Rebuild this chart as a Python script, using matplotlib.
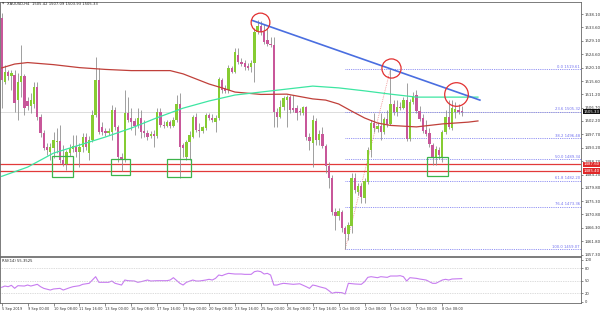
import matplotlib
matplotlib.use('Agg')
import matplotlib.pyplot as plt
from matplotlib.patches import Rectangle
import matplotlib.transforms as mtransforms
import numpy as np

# ---------------- data (XAUUSD H4) ----------------
opens = [1536.8, 1515.3, 1518.6, 1517.3, 1517.6, 1509.2, 1515.3, 1517.3, 1508.9, 1507.2,
         1507.9, 1513.6, 1503.5, 1498.2, 1493.5, 1491.8, 1493.1, 1495.1, 1495.5, 1489.1,
         1487.7, 1491.4, 1492.8, 1493.8, 1491.8, 1493.5, 1496.8, 1491.4, 1495.8, 1504.2,
         1515.9, 1500.2, 1498.8, 1498.2, 1498.5, 1505.9, 1500.2, 1490.1, 1489.1, 1504.9,
         1503.2, 1502.2, 1500.5, 1503.2, 1498.8, 1498.2, 1497.1, 1497.8, 1497.1, 1505.2,
         1500.8, 1500.5, 1501.8, 1500.5, 1502.5, 1507.9, 1494.1, 1490.1, 1495.1, 1496.8,
         1503.5, 1499.2, 1498.8, 1499.8, 1504.2, 1503.2, 1501.8, 1503.2, 1515.9, 1513.3,
         1512.6, 1520.0, 1518.6, 1524.3, 1522.0, 1521.7, 1520.6, 1520.3, 1521.7, 1532.1,
         1534.1, 1532.1, 1529.4, 1528.0, 1527.7, 1505.2, 1503.5, 1506.9, 1509.2, 1510.2,
         1506.5, 1506.5, 1505.5, 1504.9, 1506.9, 1496.8, 1494.8, 1502.2, 1495.8, 1497.8,
         1493.8, 1487.1, 1483.0, 1471.6, 1470.3, 1471.6, 1466.3, 1464.2, 1466.9, 1483.0,
         1478.3, 1480.4, 1476.3, 1481.7, 1492.4, 1501.5, 1499.5, 1500.5, 1498.5, 1502.9,
         1501.2, 1507.9, 1505.2, 1506.9, 1506.5, 1509.2, 1496.1, 1508.6, 1510.9, 1505.5,
         1503.2, 1499.2, 1498.2, 1494.1, 1490.1, 1492.4, 1489.8, 1498.5, 1503.5, 1499.8,
         1505.2, 1505.9, 1505.42]
highs = [1538.4, 1521.0, 1519.3, 1519.3, 1519.3, 1518.3, 1527.7, 1518.0, 1510.2, 1511.6,
         1515.3, 1515.3, 1504.5, 1499.2, 1494.8, 1494.8, 1498.5, 1499.8, 1500.8, 1494.1,
         1492.4, 1494.5, 1497.5, 1497.5, 1494.8, 1498.2, 1498.2, 1497.1, 1505.9, 1523.7,
         1520.0, 1501.8, 1499.8, 1499.8, 1507.6, 1506.9, 1500.8, 1491.4, 1512.6, 1510.2,
         1506.5, 1503.2, 1506.5, 1505.9, 1502.5, 1499.2, 1498.8, 1499.2, 1506.5, 1506.5,
         1502.2, 1502.5, 1502.5, 1503.5, 1510.9, 1511.6, 1494.8, 1495.8, 1498.8, 1504.2,
         1504.9, 1501.5, 1500.5, 1504.9, 1504.9, 1504.5, 1504.2, 1517.0, 1516.6, 1514.3,
         1521.0, 1520.6, 1526.7, 1526.7, 1523.3, 1522.7, 1521.7, 1522.7, 1533.4, 1536.1,
         1535.8, 1534.7, 1533.4, 1530.4, 1530.4, 1506.5, 1509.2, 1510.6, 1510.9, 1510.9,
         1510.9, 1507.6, 1506.5, 1507.2, 1507.2, 1498.2, 1504.2, 1503.2, 1499.2, 1500.2,
         1494.5, 1488.4, 1484.0, 1473.0, 1473.0, 1472.3, 1466.9, 1468.3, 1484.7, 1484.7,
         1481.4, 1481.4, 1483.0, 1493.5, 1502.5, 1504.9, 1501.8, 1504.9, 1503.5, 1505.9,
         1519.61, 1509.2, 1509.2, 1508.6, 1510.2, 1514.9, 1509.6, 1511.9, 1512.6, 1507.2,
         1504.5, 1502.5, 1499.8, 1494.8, 1493.8, 1493.5, 1499.2, 1505.9, 1509.2, 1509.2,
         1508.6, 1507.9, 1507.09]
lows = [1506.5, 1514.6, 1515.9, 1512.6, 1505.2, 1502.5, 1510.2, 1504.2, 1505.9, 1504.9,
        1506.5, 1502.5, 1496.8, 1492.4, 1490.8, 1489.1, 1489.8, 1491.4, 1488.1, 1487.1,
        1485.7, 1490.4, 1491.8, 1490.1, 1486.7, 1491.8, 1492.4, 1489.1, 1495.1, 1503.5,
        1497.8, 1497.5, 1497.1, 1497.5, 1495.8, 1499.2, 1488.4, 1485.4, 1488.4, 1501.8,
        1499.2, 1497.5, 1499.8, 1496.5, 1496.8, 1495.8, 1496.5, 1493.5, 1496.5, 1500.2,
        1499.8, 1500.2, 1499.8, 1500.2, 1501.8, 1483.0, 1490.1, 1489.1, 1489.1, 1496.5,
        1498.5, 1496.8, 1498.2, 1499.2, 1502.5, 1501.8, 1498.5, 1502.5, 1511.6, 1511.6,
        1511.6, 1518.3, 1518.3, 1521.3, 1520.6, 1519.3, 1519.3, 1518.6, 1515.3, 1531.4,
        1531.0, 1528.0, 1527.4, 1527.0, 1500.2, 1500.2, 1503.2, 1505.9, 1500.2, 1504.9,
        1505.2, 1502.5, 1504.2, 1504.2, 1495.8, 1492.4, 1486.7, 1494.1, 1494.1, 1493.1,
        1484.7, 1479.7, 1470.6, 1465.6, 1469.0, 1464.9, 1459.07, 1462.2, 1464.6, 1478.0,
        1477.3, 1474.7, 1474.7, 1481.0, 1490.1, 1498.5, 1498.5, 1495.8, 1497.8, 1500.2,
        1500.8, 1504.2, 1503.9, 1505.9, 1506.2, 1495.5, 1495.5, 1507.9, 1504.9, 1502.2,
        1498.2, 1497.1, 1493.5, 1487.4, 1487.4, 1489.4, 1488.4, 1497.8, 1499.5, 1499.2,
        1503.2, 1504.5, 1503.93]
closes = [1515.9, 1518.6, 1517.3, 1518.3, 1508.2, 1515.3, 1517.3, 1506.5, 1507.2, 1509.2,
          1513.6, 1503.5, 1498.2, 1493.1, 1492.4, 1493.5, 1495.8, 1495.5, 1489.1, 1487.7,
          1491.8, 1493.1, 1493.8, 1491.8, 1493.5, 1496.8, 1493.5, 1495.8, 1504.2, 1515.9,
          1498.5, 1498.5, 1498.2, 1498.8, 1505.9, 1500.2, 1490.1, 1489.1, 1504.9, 1502.5,
          1501.8, 1500.5, 1503.2, 1498.5, 1498.2, 1496.8, 1497.8, 1497.1, 1505.2, 1500.8,
          1500.5, 1501.8, 1500.5, 1502.5, 1507.9, 1493.5, 1493.1, 1495.1, 1497.5, 1503.5,
          1499.2, 1498.8, 1500.2, 1504.2, 1503.2, 1502.5, 1503.2, 1516.3, 1512.6, 1512.3,
          1520.0, 1518.6, 1525.3, 1522.0, 1521.3, 1520.3, 1520.0, 1521.7, 1532.1, 1534.1,
          1532.1, 1528.7, 1528.0, 1527.7, 1505.2, 1503.5, 1506.9, 1509.9, 1510.2, 1505.9,
          1505.9, 1504.9, 1505.2, 1506.9, 1496.8, 1495.5, 1502.5, 1495.8, 1497.8, 1493.8,
          1487.1, 1483.0, 1471.6, 1470.3, 1472.0, 1466.3, 1464.2, 1467.3, 1483.0, 1479.0,
          1480.4, 1476.7, 1482.0, 1492.4, 1501.5, 1499.8, 1500.5, 1498.5, 1502.9, 1501.2,
          1507.9, 1505.2, 1506.9, 1506.5, 1509.2, 1496.1, 1508.6, 1510.6, 1505.5, 1502.9,
          1498.8, 1497.8, 1494.5, 1490.1, 1492.8, 1490.8, 1498.5, 1503.5, 1500.2, 1506.5,
          1506.2, 1505.2, 1505.33]

ma_red_idx = [0, 4, 8, 16, 24, 32, 40, 48, 52, 56, 60, 64, 68, 72, 80, 88, 96, 100,
              104, 108, 112, 116, 120, 128, 136, 144, 147]
ma_red_val = [1520.0, 1521.3, 1521.8, 1521.1, 1520.1, 1519.5, 1519.1, 1519.1, 1519.1,
              1518.0, 1516.3, 1514.6, 1513.3, 1511.9, 1511.1, 1511.2, 1509.6, 1509.2,
              1507.9, 1505.5, 1503.2, 1501.5, 1500.7, 1500.2, 1501.2, 1501.8, 1502.2]
ma_green_idx = [0, 8, 16, 24, 32, 40, 48, 56, 64, 72, 80, 88, 96, 104, 112, 120, 128,
                136, 144, 147]
ma_green_val = [1483.6, 1486.7, 1491.4, 1494.1, 1496.8, 1499.8, 1503.3, 1506.5, 1508.9,
                1510.9, 1511.9, 1512.9, 1513.9, 1513.3, 1512.3, 1511.2, 1510.2, 1510.2,
                1510.2, 1510.2]

rsi_idx = [0, 1, 2, 3, 4, 5, 7, 8, 9, 11, 12, 13, 15, 16, 18, 19, 21, 22, 24, 25, 27,
           28, 29, 30, 31, 33, 34, 35, 37, 38, 39, 41, 42, 43, 45, 46, 48, 49, 51, 52,
           53, 55, 56, 57, 59, 60, 61, 63, 64, 65, 66, 67, 68, 69, 70, 72, 74, 75, 77,
           78, 79, 80, 81, 82, 83, 84, 85, 86, 87, 89, 90, 92, 94, 95, 96, 97, 98, 100,
           101, 102, 103, 105, 106, 107, 109, 111, 112, 113, 114, 116, 117, 119, 120,
           122, 123, 124, 125, 126, 128, 129, 131, 132, 133, 134, 135, 136, 137, 138,
           139, 142]
rsi_val = [34.5, 37.6, 36.0, 39.3, 32.1, 38.4, 37.6, 40.0, 37.6, 41.7, 36.0, 32.0, 28.0,
           30.5, 32.0, 28.0, 33.6, 36.0, 38.4, 41.7, 44.1, 52.0, 60.0, 46.5, 46.5, 46.5,
           49.6, 44.1, 40.0, 52.0, 50.4, 49.6, 46.5, 48.0, 52.0, 49.6, 50.4, 50.4, 50.4,
           52.0, 57.6, 44.1, 40.0, 46.5, 52.0, 49.6, 49.6, 52.0, 53.7, 52.0, 56.0, 64.0,
           62.4, 65.6, 68.0, 66.4, 66.4, 65.6, 65.6, 72.0, 73.6, 72.0, 66.4, 68.0, 64.0,
           40.0, 40.0, 42.5, 44.1, 42.5, 41.7, 43.0, 36.0, 32.0, 40.0, 38.4, 36.0, 32.0,
           26.4, 20.1, 22.5, 21.7, 18.5, 44.1, 42.5, 41.7, 48.0, 58.4, 60.0, 57.6, 60.0,
           58.4, 61.6, 61.6, 62.4, 60.0, 49.6, 57.6, 56.0, 54.4, 52.0, 48.0, 44.1, 44.1,
           48.0, 52.0, 53.7, 52.0, 54.4, 55.35]

date_idx = [0, 8, 16, 24, 32, 40, 48, 56, 64, 72, 80, 88, 96, 104, 112, 120, 128, 136]
date_labels = ['5 Sep 2019', '9 Sep 00:00', '10 Sep 08:00', '11 Sep 16:00', '13 Sep 00:00',
               '16 Sep 08:00', '17 Sep 16:00', '19 Sep 00:00', '20 Sep 08:00',
               '23 Sep 16:00', '25 Sep 00:00', '26 Sep 08:00', '27 Sep 16:00',
               '1 Oct 00:00', '2 Oct 08:00', '3 Oct 16:00', '7 Oct 00:00', '8 Oct 08:00']
price_ticks = [1538.10, 1533.60, 1529.10, 1524.60, 1520.10, 1515.60, 1511.20, 1506.70,
               1502.20, 1497.70, 1493.20, 1488.70, 1484.20, 1479.80, 1475.30, 1470.80,
               1466.30, 1461.80, 1457.30]
rsi_ticks = [100, 80, 50, 20, 0]
rsi_levels = [80, 50, 20]

fib_levels = [0.0, 23.6, 38.2, 50.0, 61.8, 76.4, 100.0]
fib_high = 1519.61
fib_low = 1459.07
fib_high_bar = 120
fib_low_bar = 106
support_levels = [1487.60, 1485.40]
last_price = 1505.33
rsi_last = 55.3525
title = 'XAUUSD,H4  1505.42 1507.09 1503.93 1505.33'

# ---------------- styles ----------------
BULL = '#86cc32'
BEAR = '#c8579a'
WICK = '#8f8f8f'
RED_MA = '#c0403a'
GREEN_MA = '#3de6a2'
FIB = '#7070f0'
FS = 3.0

fig = plt.figure(figsize=(6.0, 3.13), dpi=100)
ax = fig.add_axes([0.0008, 0.1821, 0.9675, 0.8115])
axr = fig.add_axes([0.0008, 0.031, 0.9675, 0.147], sharex=ax)

XL = (-0.37, 178.8)
ax.set_xlim(*XL)
ax.set_ylim(1456.86, 1542.13)

# candles
n = len(closes)
for i in range(n):
    o, h, l, c = opens[i], highs[i], lows[i], closes[i]
    col = BULL if c >= o else BEAR
    ax.vlines(i, l, h, color=WICK, lw=0.6, zorder=3)
    ax.bar(i, max(abs(c - o), 0.3), bottom=min(o, c), width=0.72,
           color=col, lw=0, zorder=4)

# moving averages
ax.plot(ma_red_idx, ma_red_val, color=RED_MA, lw=0.9, zorder=5)
ax.plot(ma_green_idx, ma_green_val, color=GREEN_MA, lw=0.9, zorder=5)

# current price line
ax.axhline(last_price, color='#cfcfcf', lw=0.5, zorder=1)

# support lines
for lv in support_levels:
    ax.axhline(lv, color='#e23a3a', lw=0.9, zorder=2)

# fibonacci retracement
rng = fib_high - fib_low
for f in fib_levels:
    p = fib_high - rng * f / 100.0
    ax.hlines(p, fib_low_bar, XL[1], color=FIB, lw=0.6, linestyles=(0, (1, 1.2)), zorder=2)
    ax.text(XL[1] - 0.4, p + 0.15, '%.1f %.2f' % (f, p), color=FIB, fontsize=FS - 0.3,
            ha='right', va='bottom', zorder=6)
ax.plot([fib_low_bar, fib_high_bar], [fib_low, fib_high], color='#f08a8a', lw=0.6,
        ls=(0, (1, 1.2)), zorder=2)

# trend line
ax.plot([77.3, 147.6], [1535.95, 1509.2], color='#4a6ee0', lw=1.2, zorder=6)

# circles
for (cx, cy, d) in [(79.6, 1535.5, 13.5), (120.2, 1519.9, 13.8), (140.2, 1511.2, 17.0)]:
    ax.plot([cx], [cy], marker='o', ms=d, mfc='none', mec='#e23030', mew=0.9, zorder=7)

# green boxes
for (x0, x1, y0, y1) in [(15.5, 22.0, 1483.4, 1490.4), (33.7, 39.6, 1484.0, 1489.4),
                         (51.0, 58.4, 1483.4, 1489.4), (131.3, 137.7, 1483.7, 1490.1)]:
    ax.add_patch(Rectangle((x0, y0), x1 - x0, y1 - y0, fill=False, ec='#3cb44b',
                           lw=0.9, zorder=7))

# axes cosmetics
for a in (ax, axr):
    for s in a.spines.values():
        s.set_color('#666666')
        s.set_linewidth(0.6)
    a.set_facecolor('white')

ax.yaxis.tick_right()
ax.set_yticks(price_ticks)
ax.set_yticklabels(['%.2f' % v for v in price_ticks])
ax.tick_params(axis='y', labelsize=FS - 0.2, length=1.5, width=0.4, pad=1, colors='#333333')
ax.tick_params(axis='x', bottom=False, labelbottom=False)

trans = mtransforms.blended_transform_factory(ax.transAxes, ax.transData)
for lv in support_levels:
    ax.text(1.004, lv, '%.2f' % lv, transform=trans, fontsize=FS - 0.2, color='white',
            va='center', ha='left', zorder=10, clip_on=False,
            bbox=dict(boxstyle='square,pad=0.15', fc='#e02828', ec='none'))
ax.text(1.004, last_price, '%.2f' % last_price, transform=trans, fontsize=FS - 0.2,
        color='white', va='center', ha='left', zorder=10, clip_on=False,
        bbox=dict(boxstyle='square,pad=0.15', fc='#111111', ec='none'))

ax.text(0.003, 0.992, '\u25bc', transform=ax.transAxes, fontsize=FS - 0.8,
        color='#444444', va='center', ha='left')
ax.text(0.012, 0.992, title, transform=ax.transAxes, fontsize=FS - 0.3, color='#222222',
        va='center', ha='left')

# RSI panel
axr.set_ylim(-3.8, 106.5)
axr.plot(rsi_idx, rsi_val, color='#c77cf0', lw=0.8)
for lv in rsi_levels:
    axr.axhline(lv, color='#bbbbbb', lw=0.5, ls=(0, (1, 1.5)))
axr.yaxis.tick_right()
axr.set_yticks(rsi_ticks)
axr.set_yticklabels([str(v) for v in rsi_ticks])
axr.tick_params(axis='y', labelsize=FS - 0.3, length=1.5, width=0.4, pad=1, colors='#333333')
axr.set_xticks(date_idx)
axr.set_xticklabels(date_labels, ha='left')
axr.tick_params(axis='x', labelsize=FS - 0.5, length=2, width=0.4, pad=1, colors='#333333')
axr.text(0.003, 0.92, 'RSI(14) %.4f' % rsi_last, transform=axr.transAxes, fontsize=FS - 0.3,
         color='#222222', va='center', ha='left')

fig.savefig('out.png', dpi=100, facecolor='white')
